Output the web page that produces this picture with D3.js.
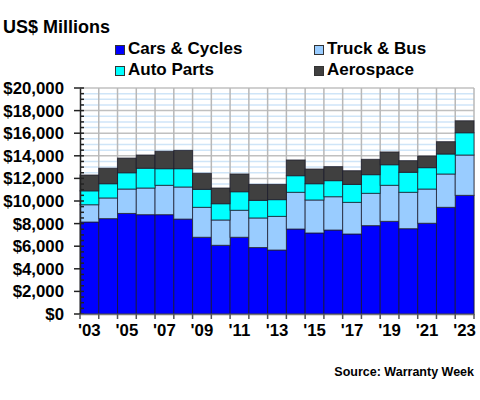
<!DOCTYPE html>
<html><head><meta charset="utf-8">
<script src="https://cdn.jsdelivr.net/npm/d3@7"></script>
<style>body{margin:0;background:#fff}svg{display:block}text{font-family:Arial,"Liberation Sans",sans-serif;font-weight:bold;fill:#000}</style>
</head><body>
<script>
const years = ["2003","2004","2005","2006","2007","2008","2009","2010","2011","2012","2013","2014","2015","2016","2017","2018","2019","2020","2021","2022","2023"];
const carsCycles = [8140,8440,8900,8790,8790,8400,6790,6080,6790,5880,5660,7520,7170,7430,7080,7820,8200,7550,8030,9440,10500];
const truckBus   = [1530,1830,2160,2360,2600,2840,2650,2240,2390,2620,2980,3250,2920,2950,2800,2860,3190,3220,3030,2950,3570];
const autoParts  = [1230,1260,1440,1750,1470,1620,1590,1440,1640,1560,1480,1470,1440,1420,1590,1650,1820,1770,1890,1770,1970];
const aerospace  = [1400,1370,1300,1170,1540,1620,1420,1390,1570,1410,1350,1390,1300,1240,1210,1360,1130,1030,1030,1090,1060];
const seriesNames = ["Cars & Cycles","Truck & Bus","Auto Parts","Aerospace"];
const seriesColors = ["#0000ff","#99ccff","#00ffff","#404040"];
const yTicks = [0,2000,4000,6000,8000,10000,12000,14000,16000,18000,20000];
const xTickLabels = ["'03","'05","'07","'09","'11","'13","'15","'17","'19","'21","'23"];

const W=480,H=400;
const svg=d3.select("body").append("svg").attr("width",W).attr("height",H);
const m={l:80,r:6,t:88,b:86};
const x=d3.scaleBand().domain(years).range([m.l,W-m.r]).padding(0);
const y=d3.scaleLinear().domain([0,20000]).range([H-m.b,m.t]);

const rows=years.map((yr,i)=>({year:yr,"Cars & Cycles":carsCycles[i],"Truck & Bus":truckBus[i],"Auto Parts":autoParts[i],"Aerospace":aerospace[i]}));
const stack=d3.stack().keys(seriesNames)(rows);

// gridlines
const g=svg.append("g");
d3.range(500,20001,500).filter(v=>v%2000!==0).forEach(v=>{
  g.append("line").attr("x1",m.l).attr("x2",W-m.r).attr("y1",y(v)).attr("y2",y(v)).attr("stroke","#cfe5f8").attr("stroke-width",1.5);
});
yTicks.forEach(v=>{
  g.append("line").attr("x1",m.l).attr("x2",W-m.r).attr("y1",y(v)).attr("y2",y(v)).attr("stroke","#c0c0c0").attr("stroke-width",1.5);
});
years.forEach((yr,i)=>{
  const xx=x(yr)+x.bandwidth();
  g.append("line").attr("x1",xx).attr("x2",xx).attr("y1",m.t).attr("y2",H-m.b).attr("stroke","#b8b8b8").attr("stroke-width",1.5);
});

// bars
stack.forEach((s,si)=>{
  svg.append("g").selectAll("rect").data(s).join("rect")
    .attr("x",d=>x(d.data.year)).attr("width",x.bandwidth())
    .attr("y",d=>y(d[1])).attr("height",d=>y(d[0])-y(d[1]))
    .attr("fill",seriesColors[si]).attr("stroke","#1a1a2a").attr("stroke-opacity",0.75).attr("stroke-width",1);
});

// y axis
const ya=svg.append("g").attr("transform",`translate(${m.l},0)`);
ya.call(d3.axisLeft(y).tickValues(d3.range(0,20001,500)).tickSize(0).tickFormat(""));
ya.select(".domain").attr("stroke","#222").attr("stroke-width",1.5);
d3.range(0,20001,500).forEach(v=>{
  const major=v%2000===0;
  ya.append("line").attr("x1",major?-6:0).attr("x2",4).attr("y1",y(v)).attr("y2",y(v)).attr("stroke","#222").attr("stroke-width",1.5);
});
yTicks.forEach(v=>{
  ya.append("text").attr("x",-16).attr("y",y(v)).attr("dy","0.36em").attr("text-anchor","end").attr("font-size",16.8).text("$"+d3.format(",")(v));
});

// x axis
const xa=svg.append("g").attr("transform",`translate(0,${H-m.b})`);
xa.call(d3.axisBottom(x).tickSize(0).tickFormat(""));
xa.select(".domain").attr("stroke","#777").attr("stroke-width",1.5);
[m.l].concat(years.map(yr=>x(yr)+x.bandwidth())).forEach(xx=>{
  xa.append("line").attr("x1",xx).attr("x2",xx).attr("y1",0).attr("y2",5).attr("stroke","#555").attr("stroke-width",1.5);
});
xTickLabels.forEach((lab,i)=>{
  const yr=years[i*2];
  xa.append("text").attr("x",x(yr)+x.bandwidth()/2).attr("y",22).attr("text-anchor","middle").attr("font-size",16.8).text(lab);
});

// title
svg.append("text").attr("x",3).attr("y",33).attr("font-size",18).text("US$ Millions");

// legend
const legPos=[[115,54],[314,54],[115,75],[314,75]];
seriesNames.forEach((n,i)=>{
  const [lx,ly]=legPos[i];
  svg.append("rect").attr("x",lx+0.5).attr("y",ly-8.5).attr("width",9).attr("height",9).attr("fill",seriesColors[i]).attr("stroke","#333").attr("stroke-width",1);
  svg.append("text").attr("x",lx+13).attr("y",ly).attr("font-size",17).text(n);
});

// source
svg.append("text").attr("x",474).attr("y",376).attr("text-anchor","end").attr("font-size",12.5).text("Source: Warranty Week");
</script>
</body></html>
